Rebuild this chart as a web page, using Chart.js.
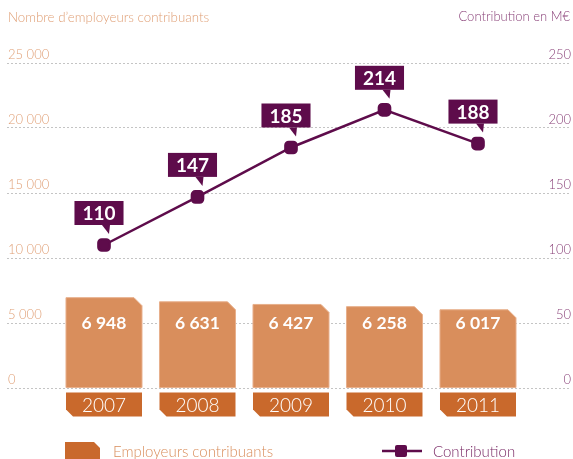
<!DOCTYPE html>
<html><head><meta charset="utf-8">
<script src="https://cdn.jsdelivr.net/npm/chart.js@4/dist/chart.umd.min.js"></script>
<style>html,body{margin:0;padding:0;background:#fff}#wrap{width:573px;height:459px;position:relative}canvas{display:block}</style>
</head><body><div id="wrap"><canvas id="c" width="573" height="459"></canvas></div>
<script>
// ---- data ----
const years = ['2007', '2008', '2009', '2010', '2011'];
const employers = [6948, 6631, 6427, 6258, 6017];
const contribution = [110, 147, 185, 214, 188];
const employerTicks = [0, 5000, 10000, 15000, 20000, 25000];
const contributionTicks = [0, 50, 100, 150, 200, 250];
const leftTitle = 'Nombre d\u2019employeurs contribuants';
const rightTitle = 'Contribution en M\u20ac';
const barLabel = 'Employeurs contribuants';
const lineLabel = 'Contribution';

// ---- styles ----
const FONT = 'Lato, "Open Sans", sans-serif';
const PURPLE = '#5e0c4b';
const PURPLE_TEXT = '#8a4279';
const BAR = '#d98e5c';
const BAR_EDGE = '#e8b08c';
const YEAR_BOX = '#c9692c';
const ORANGE_TEXT = '#e0a077';
const GRID = '#c4c4c4';

function fmt(v) { return String(v).replace(/\B(?=(\d{3})+(?!\d))/g, ' '); }

const decor = {
  id: 'decor',
  beforeDatasetDraw(chart, args) {
    const meta = args.meta;
    if (meta.type !== 'bar') return;
    const ctx = chart.ctx;
    ctx.save();
    meta.data.forEach((el, i) => {
      const w = el.width, l = el.x - w / 2, r = el.x + w / 2, t = el.y, b = el.base, c = 8;
      ctx.beginPath();
      ctx.moveTo(l, b); ctx.lineTo(l, t); ctx.lineTo(r - c, t); ctx.lineTo(r, t + c); ctx.lineTo(r, b);
      ctx.closePath();
      ctx.fillStyle = BAR; ctx.fill();
      ctx.lineWidth = 1; ctx.strokeStyle = BAR_EDGE; ctx.stroke();
      const yt = b + 5, yb = b + 29, yc = 7;
      ctx.beginPath();
      ctx.moveTo(l, yt); ctx.lineTo(r, yt); ctx.lineTo(r, yb); ctx.lineTo(l + yc, yb); ctx.lineTo(l, yb - yc);
      ctx.closePath();
      ctx.fillStyle = YEAR_BOX; ctx.fill();
      ctx.fillStyle = '#fff';
      ctx.textAlign = 'center'; ctx.textBaseline = 'middle';
      ctx.font = '300 19px ' + FONT;
      ctx.fillText(years[i], el.x, yt + 13);
      ctx.font = 'bold 17.5px ' + FONT;
      ctx.fillText(fmt(employers[i]), el.x, b - 64);
    });
    ctx.restore();
    return false;
  },
  afterDatasetsDraw(chart) {
    const ctx = chart.ctx;
    chart.data.datasets.forEach((ds, di) => {
      const meta = chart.getDatasetMeta(di);
      if (meta.type !== 'line') return;
      ctx.save();
      ctx.font = 'bold 19px ' + FONT;
      meta.data.forEach((el, i) => {
        const txt = String(contribution[i]);
        const tw = ctx.measureText(txt).width;
        const w = tw + 16, h = 24;
        const cx = el.x - 5, bottom = el.y - 20, top = bottom - h;
        ctx.fillStyle = PURPLE;
        ctx.fillRect(cx - w / 2, top, w, h);
        ctx.beginPath();
        ctx.moveTo(el.x - 2, bottom); ctx.lineTo(el.x + 6, bottom); ctx.lineTo(el.x + 5, bottom + 9);
        ctx.closePath(); ctx.fill();
        ctx.fillStyle = '#fff';
        ctx.textAlign = 'center'; ctx.textBaseline = 'middle';
        ctx.fillText(txt, cx, top + h / 2 + 1);
      });
      ctx.restore();
    });
  },
  afterDraw(chart) {
    const ctx = chart.ctx;
    ctx.save();
    ctx.textBaseline = 'middle';
    ctx.font = '300 13.3px ' + FONT;
    ctx.fillStyle = ORANGE_TEXT; ctx.textAlign = 'left';
    ctx.fillText(leftTitle, 8, 18);
    ctx.font = '300 13px ' + FONT;
    ctx.fillStyle = PURPLE_TEXT; ctx.textAlign = 'right';
    ctx.fillText(rightTitle, 570, 17);
    const ly = 451;
    ctx.fillStyle = YEAR_BOX;
    ctx.beginPath();
    ctx.moveTo(65, 459); ctx.lineTo(65, 442); ctx.lineTo(94, 442); ctx.lineTo(100, 448); ctx.lineTo(100, 459);
    ctx.closePath(); ctx.fill();
    ctx.font = '300 15px ' + FONT;
    ctx.fillStyle = '#d98e5c'; ctx.textAlign = 'left';
    ctx.fillText(barLabel, 113, ly + 1);
    ctx.strokeStyle = PURPLE; ctx.lineWidth = 2.5;
    ctx.beginPath(); ctx.moveTo(382, ly); ctx.lineTo(422, ly); ctx.stroke();
    ctx.fillStyle = PURPLE;
    ctx.beginPath();
    if (ctx.roundRect) ctx.roundRect(395, ly - 6, 12, 12, 2); else ctx.rect(395, ly - 6, 12, 12);
    ctx.fill();
    ctx.fillStyle = '#7a2a66';
    ctx.fillText(lineLabel, 433, ly + 1);
    ctx.restore();
  }
};

new Chart(document.getElementById('c'), {
  type: 'bar',
  data: {
    datasets: [
      {
        type: 'line', label: lineLabel, yAxisID: 'y1', order: 0,
        data: contribution.map((v, i) => ({ x: i, y: v })),
        borderColor: PURPLE, backgroundColor: PURPLE, borderWidth: 2.5,
        pointStyle: 'rectRounded', pointRadius: 6.5, pointHoverRadius: 6.5, tension: 0
      },
      {
        type: 'bar', label: barLabel, yAxisID: 'y', order: 1,
        data: employers.map((v, i) => ({ x: i, y: v })),
        backgroundColor: BAR, barThickness: 76
      }
    ]
  },
  options: {
    responsive: false, animation: false, devicePixelRatio: 1,
    layout: { autoPadding: false, padding: { left: 5, right: 1, top: 63, bottom: 71 } },
    plugins: { legend: { display: false }, tooltip: { enabled: false } },
    scales: {
      x: { type: 'linear', min: -1.0374, max: 4.984, offset: false, display: false },
      y: {
        position: 'left', min: 0, max: 25000,
        afterBuildTicks(s) { s.ticks = employerTicks.map(v => ({ value: v })); },
        ticks: { mirror: true, padding: 1, labelOffset: -8, color: ORANGE_TEXT, font: { family: FONT, size: 13, weight: '300' }, callback: v => fmt(v) },
        grid: { color: GRID, drawTicks: false, lineWidth: 1 },
        border: { display: false, dash: [2, 2] }
      },
      y1: {
        position: 'right', min: 0, max: 250,
        afterBuildTicks(s) { s.ticks = contributionTicks.map(v => ({ value: v })); },
        ticks: { mirror: true, padding: 1, labelOffset: -8, color: PURPLE_TEXT, font: { family: FONT, size: 13, weight: '300' }, callback: v => String(v) },
        grid: { display: false, drawTicks: false },
        border: { display: false }
      }
    }
  },
  plugins: [decor]
});
</script>
</body></html>
